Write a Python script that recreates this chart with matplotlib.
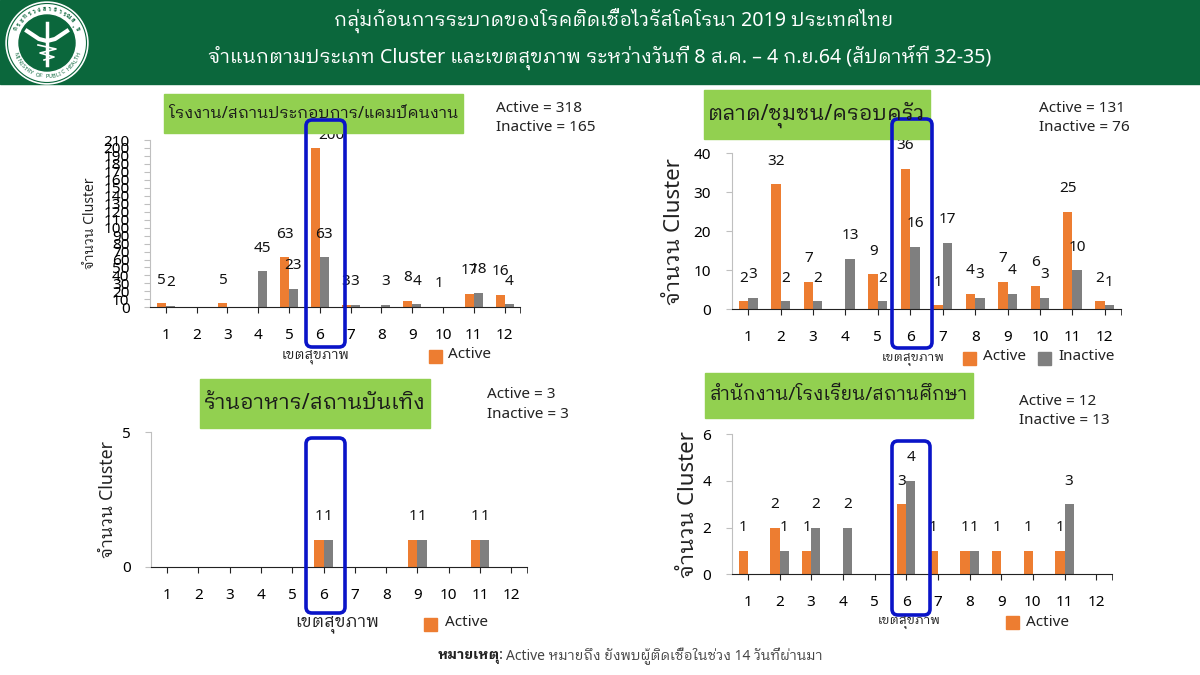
import math
import matplotlib
matplotlib.use("Agg")
from matplotlib import pyplot as plt
from matplotlib.patches import Circle, FancyBboxPatch, Rectangle

regions = list(range(1, 13))

# factory / camp
factory_active = [5, 0, 5, 0, 63, 200, 3, 0, 8, 1, 17, 16]
factory_inactive = [2, 0, 0, 45, 23, 63, 3, 3, 4, 0, 18, 4]
factory_ticks = list(range(0, 211, 10))

# market / community / family
market_active = [2, 32, 7, 0, 9, 36, 1, 4, 7, 6, 25, 2]
market_inactive = [3, 2, 2, 13, 2, 16, 17, 3, 4, 3, 10, 1]
market_ticks = [0, 10, 20, 30, 40]

# restaurant / entertainment
food_active = [0, 0, 0, 0, 0, 1, 0, 0, 1, 0, 1, 0]
food_inactive = [0, 0, 0, 0, 0, 1, 0, 0, 1, 0, 1, 0]
food_ticks = [0, 5]

# office / school
office_active = [1, 2, 1, 0, 0, 3, 1, 1, 1, 1, 1, 0]
office_inactive = [0, 1, 2, 2, 0, 4, 0, 1, 0, 0, 3, 0]
office_ticks = [0, 2, 4, 6]

ORANGE = "#ED7D31"
GRAY = "#7F7F7F"
GREEN = "#0B673C"
LABEL_GREEN = "#92D050"
BLUE = "#0A14C8"

plt.rcParams["font.family"] = ["Noto Sans", "IBM Plex Sans Thai Looped", "DejaVu Sans"]

W, H = 1200, 675
fig = plt.figure(figsize=(12, 6.75), dpi=100, facecolor="white")


def draw_panel(left, right, y0, ytop, active, inactive, ticks):
    ax = fig.add_axes([left / W, 1 - y0 / H, (right - left) / W, (y0 - ytop) / H])
    x = range(len(regions))
    w = 0.29
    ax.bar([i - w / 2 for i in x], active, w, color=ORANGE)
    ax.bar([i + w / 2 for i in x], inactive, w, color=GRAY)
    for i in x:
        for val, xpos in ((active[i], i - w / 2), (inactive[i], i + w / 2)):
            if val == 0:
                continue
            dx, dy = 0, 23
            if val == 200:  # this label sits off the bar in the original
                dx, dy = 16, 12
            ax.annotate(str(val), (xpos, val), xytext=(dx, dy), textcoords="offset pixels",
                        ha="center", va="center", fontsize=11, color="#111111",
                        annotation_clip=False)
    ax.set_xlim(-0.5, 11.5)
    ax.set_ylim(ticks[0], ticks[-1])
    ax.set_xticks(list(x))
    ax.set_xticklabels(regions)
    ax.set_xticks([11.5], minor=True)
    ax.set_yticks(ticks)
    ax.tick_params(axis="x", which="both", length=4, color="#222222", pad=11, labelsize=11)
    ax.tick_params(axis="y", length=4, color="#BFBFBF", pad=11, labelsize=11)
    ax.spines["top"].set_visible(False)
    ax.spines["right"].set_visible(False)
    ax.spines["left"].set_color("#BFBFBF")
    ax.spines["bottom"].set_color("#222222")
    ax.patch.set_visible(False)
    return ax


draw_panel(150.4, 520, 307.3, 140, factory_active, factory_inactive, factory_ticks)
draw_panel(732, 1121, 309.3, 153, market_active, market_inactive, market_ticks)
draw_panel(151.4, 527, 566.7, 432.3, food_active, food_inactive, food_ticks)
draw_panel(732, 1112, 574.3, 434.3, office_active, office_inactive, office_ticks)

# overlay in pixel coordinates for the slide furniture
top = fig.add_axes([0, 0, 1, 1], zorder=5)
top.set_xlim(0, W)
top.set_ylim(H, 0)
top.axis("off")

top.add_patch(Rectangle((0, 0), W, 84, color=GREEN))
top.text(614, 21, "กลุ่มก้อนการระบาดของโรคติดเชื้อไวรัสโคโรนา 2019 ประเทศไทย",
         color="white", fontsize=14.15, ha="center", va="center")
top.text(600, 57, "จำแนกตามประเภท Cluster และเขตสุขภาพ ระหว่างวันที่ 8 ส.ค. – 4 ก.ย.64 (สัปดาห์ที่ 32-35)",
         color="white", fontsize=14.15, ha="center", va="center")

# logo
cx, cy = 47, 43
top.add_patch(Circle((cx, cy), 41, color="white"))
top.add_patch(Circle((cx, cy), 39.5, fill=False, ec=GREEN, lw=0.8))
top.add_patch(Circle((cx, cy), 28, color=GREEN))
top.plot([cx, cx], [cy - 20, cy + 22], color="white", lw=2.5)
top.plot([cx - 20, cx - 8, cx, cx + 8, cx + 20], [cy - 12, cy - 4, cy - 2, cy - 4, cy - 12],
         color="white", lw=3)
top.plot([cx - 9, cx + 9, cx - 7, cx + 7, cx - 3], [cy + 2, cy + 6, cy + 10, cy + 14, cy + 17],
         color="white", lw=1.2)


def ring_text(txt, start, stop, flip):
    # one rotated letter at a time around the seal
    for i, ch in enumerate(txt):
        ang = start + (stop - start) * i / (len(txt) - 1)
        px = cx + 33.5 * math.cos(math.radians(ang))
        py = cy + 33.5 * math.sin(math.radians(ang))
        rot = 90 - ang if flip else -90 - ang
        top.text(px, py, ch, fontsize=4, color=GREEN, ha="center", va="center",
                 rotation=rot, fontweight="bold")


ring_text("MINISTRY OF PUBLIC HEALTH", 160, 20, True)
ring_text("กระทรวงสาธารณสุข", 205, 335, False)

# category boxes
boxes = [
    (164, 94, 298.5, 39, "โรงงาน/สถานประกอบการ/แคมป์คนงาน", 11.7),
    (704, 90, 226, 49, "ตลาด/ชุมชน/ครอบครัว", 15.2),
    (200, 379, 230, 49, "ร้านอาหาร/สถานบันเทิง", 15.2),
    (705, 373, 268, 45, "สำนักงาน/โรงเรียน/สถานศึกษา", 13.5),
]
for bx, by, bw, bh, txt, fs in boxes:
    top.add_patch(Rectangle((bx, by), bw, bh, color=LABEL_GREEN))
    top.text(bx + bw / 2, by + bh / 2, txt, fontsize=fs, color="#1a1a1a", ha="center", va="center")

# totals
for tx, y1, y2, a_txt, i_txt in [
    (496, 108.5, 127.5, "Active = 318", "Inactive = 165"),
    (1039, 108.5, 127.5, "Active = 131", "Inactive = 76"),
    (487, 394.5, 414.5, "Active = 3", "Inactive = 3"),
    (1018.6, 401.5, 420.5, "Active = 12", "Inactive = 13"),
]:
    top.text(tx, y1, a_txt, fontsize=11, color="#222222", va="center")
    top.text(tx, y2, i_txt, fontsize=11, color="#222222", va="center")

# axis titles
for tx, ty, fs in [(90, 223, 10), (674, 232, 16), (108, 499, 12.8), (688, 505, 16)]:
    top.text(tx, ty, "จำนวน Cluster", rotation=90, fontsize=fs, color="#222222", ha="center", va="center")
for tx, ty, fs in [(316, 356, 10), (913, 359, 9.3), (337, 624, 12.3), (909, 622, 9.3)]:
    top.text(tx, ty, "เขตสุขภาพ", fontsize=fs, color="#222222", ha="center", va="center")

# hand-placed legends, as on the slide
for sx, sy, tx, ty in [(429, 350, 447.5, 355), (963, 352, 983, 357), (424, 618, 445, 623), (1006, 616, 1026, 622)]:
    top.add_patch(Rectangle((sx, sy), 13, 13, color=ORANGE))
    top.text(tx, ty, "Active", fontsize=11, color="#222222", va="center")
top.add_patch(Rectangle((1038, 352), 13, 13, color=GRAY))
top.text(1058, 357, "Inactive", fontsize=11, color="#222222", va="center")

# highlight of region 6
for x0, x1, y0, y1 in [(306, 345, 120, 347), (892, 932, 119, 348), (306, 345, 438, 613), (892, 930, 441, 615)]:
    top.add_patch(FancyBboxPatch((x0, y0), x1 - x0, y1 - y0, boxstyle="round,pad=0,rounding_size=6",
                                 fc="none", ec=BLUE, lw=2.6))

# footnote
top.text(438, 656, "หมายเหตุ:", fontsize=10, fontweight="bold", color="#222222", va="center")
top.text(506, 656, "Active หมายถึง ยังพบผู้ติดเชื้อในช่วง 14 วันที่ผ่านมา", fontsize=10, color="#444444", va="center")

fig.savefig("out.png", dpi=100)
plt.close(fig)
